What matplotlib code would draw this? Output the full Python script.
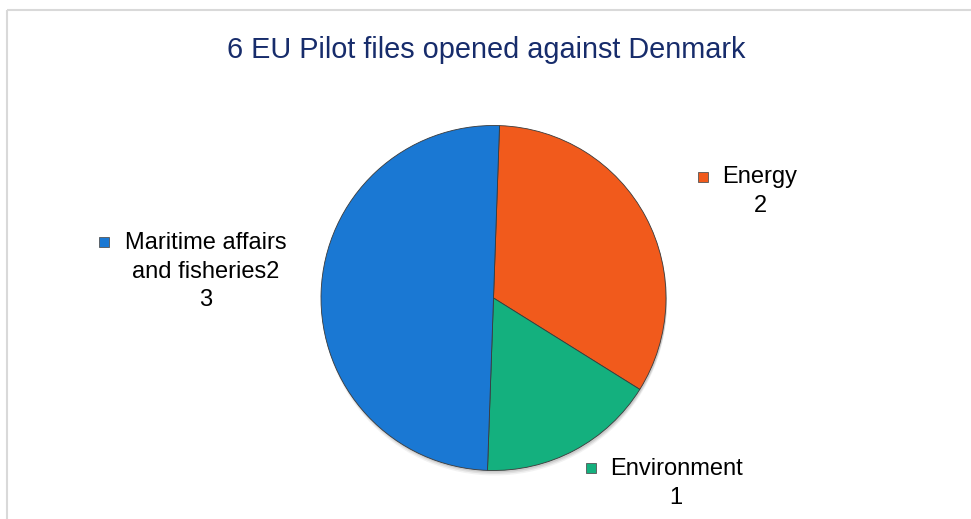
import matplotlib.pyplot as plt
from matplotlib.patches import Rectangle, Circle

plt.rcParams['font.family'] = ['Liberation Sans', 'DejaVu Sans']

title = "6 EU Pilot files opened against Denmark"
categories = ['Energy', 'Environment', 'Maritime affairs\nand fisheries2']
values = [2, 1, 3]
colors = ['#f15a1c', '#14b07e', '#1a78d3']

fig = plt.figure(figsize=(9.71, 5.19), dpi=100)
ax = fig.add_axes([0, 0, 1, 1])

cx, cy, r = 493.5, 298, 172.5

# soft shadow under the pie
for k, a in [(5, 0.05), (3.5, 0.07), (2, 0.09)]:
    ax.add_patch(Circle((cx + 1, cy + k), r, fc='#000000', alpha=a, ec='none', zorder=1))

# y axis is flipped below, so counterclock=True runs clockwise on screen
ax.pie(values, colors=colors, startangle=-88, counterclock=True,
       center=(cx, cy), radius=r, frame=True,
       wedgeprops=dict(ec='#3a3a3a', lw=0.6, zorder=2))

ax.set_xlim(0, 971)
ax.set_ylim(519, 0)
ax.set_aspect('equal')
ax.axis('off')

# chart frame (only top/left edges visible)
ax.add_patch(Rectangle((6.5, 9.5), 1000, 600, fill=False, ec='#d9d9d9', lw=1.5))

ax.text(486, 50, title, ha='center', va='center', fontsize=20.8, color='#172c6b')

# marker position, text block center x, first line y
label_pos = [
    ((703, 177), 760, 177),
    ((591, 468), 676, 469),
    ((104, 242), 206, 243),
]
step = 28.5
for (mpos, tx, y0), name, v, c in zip(label_pos, categories, values, colors):
    mx, my = mpos
    ax.add_patch(Rectangle((mx - 5, my - 5), 10, 10, fc=c, ec='#555555', lw=0.6, zorder=3))
    lines = name.split('\n') + [str(v)]
    for i, line in enumerate(lines):
        ax.text(tx, y0 + i * step, line, ha='center', va='center', fontsize=17, color='black')

fig.savefig('out.png', dpi=100)
